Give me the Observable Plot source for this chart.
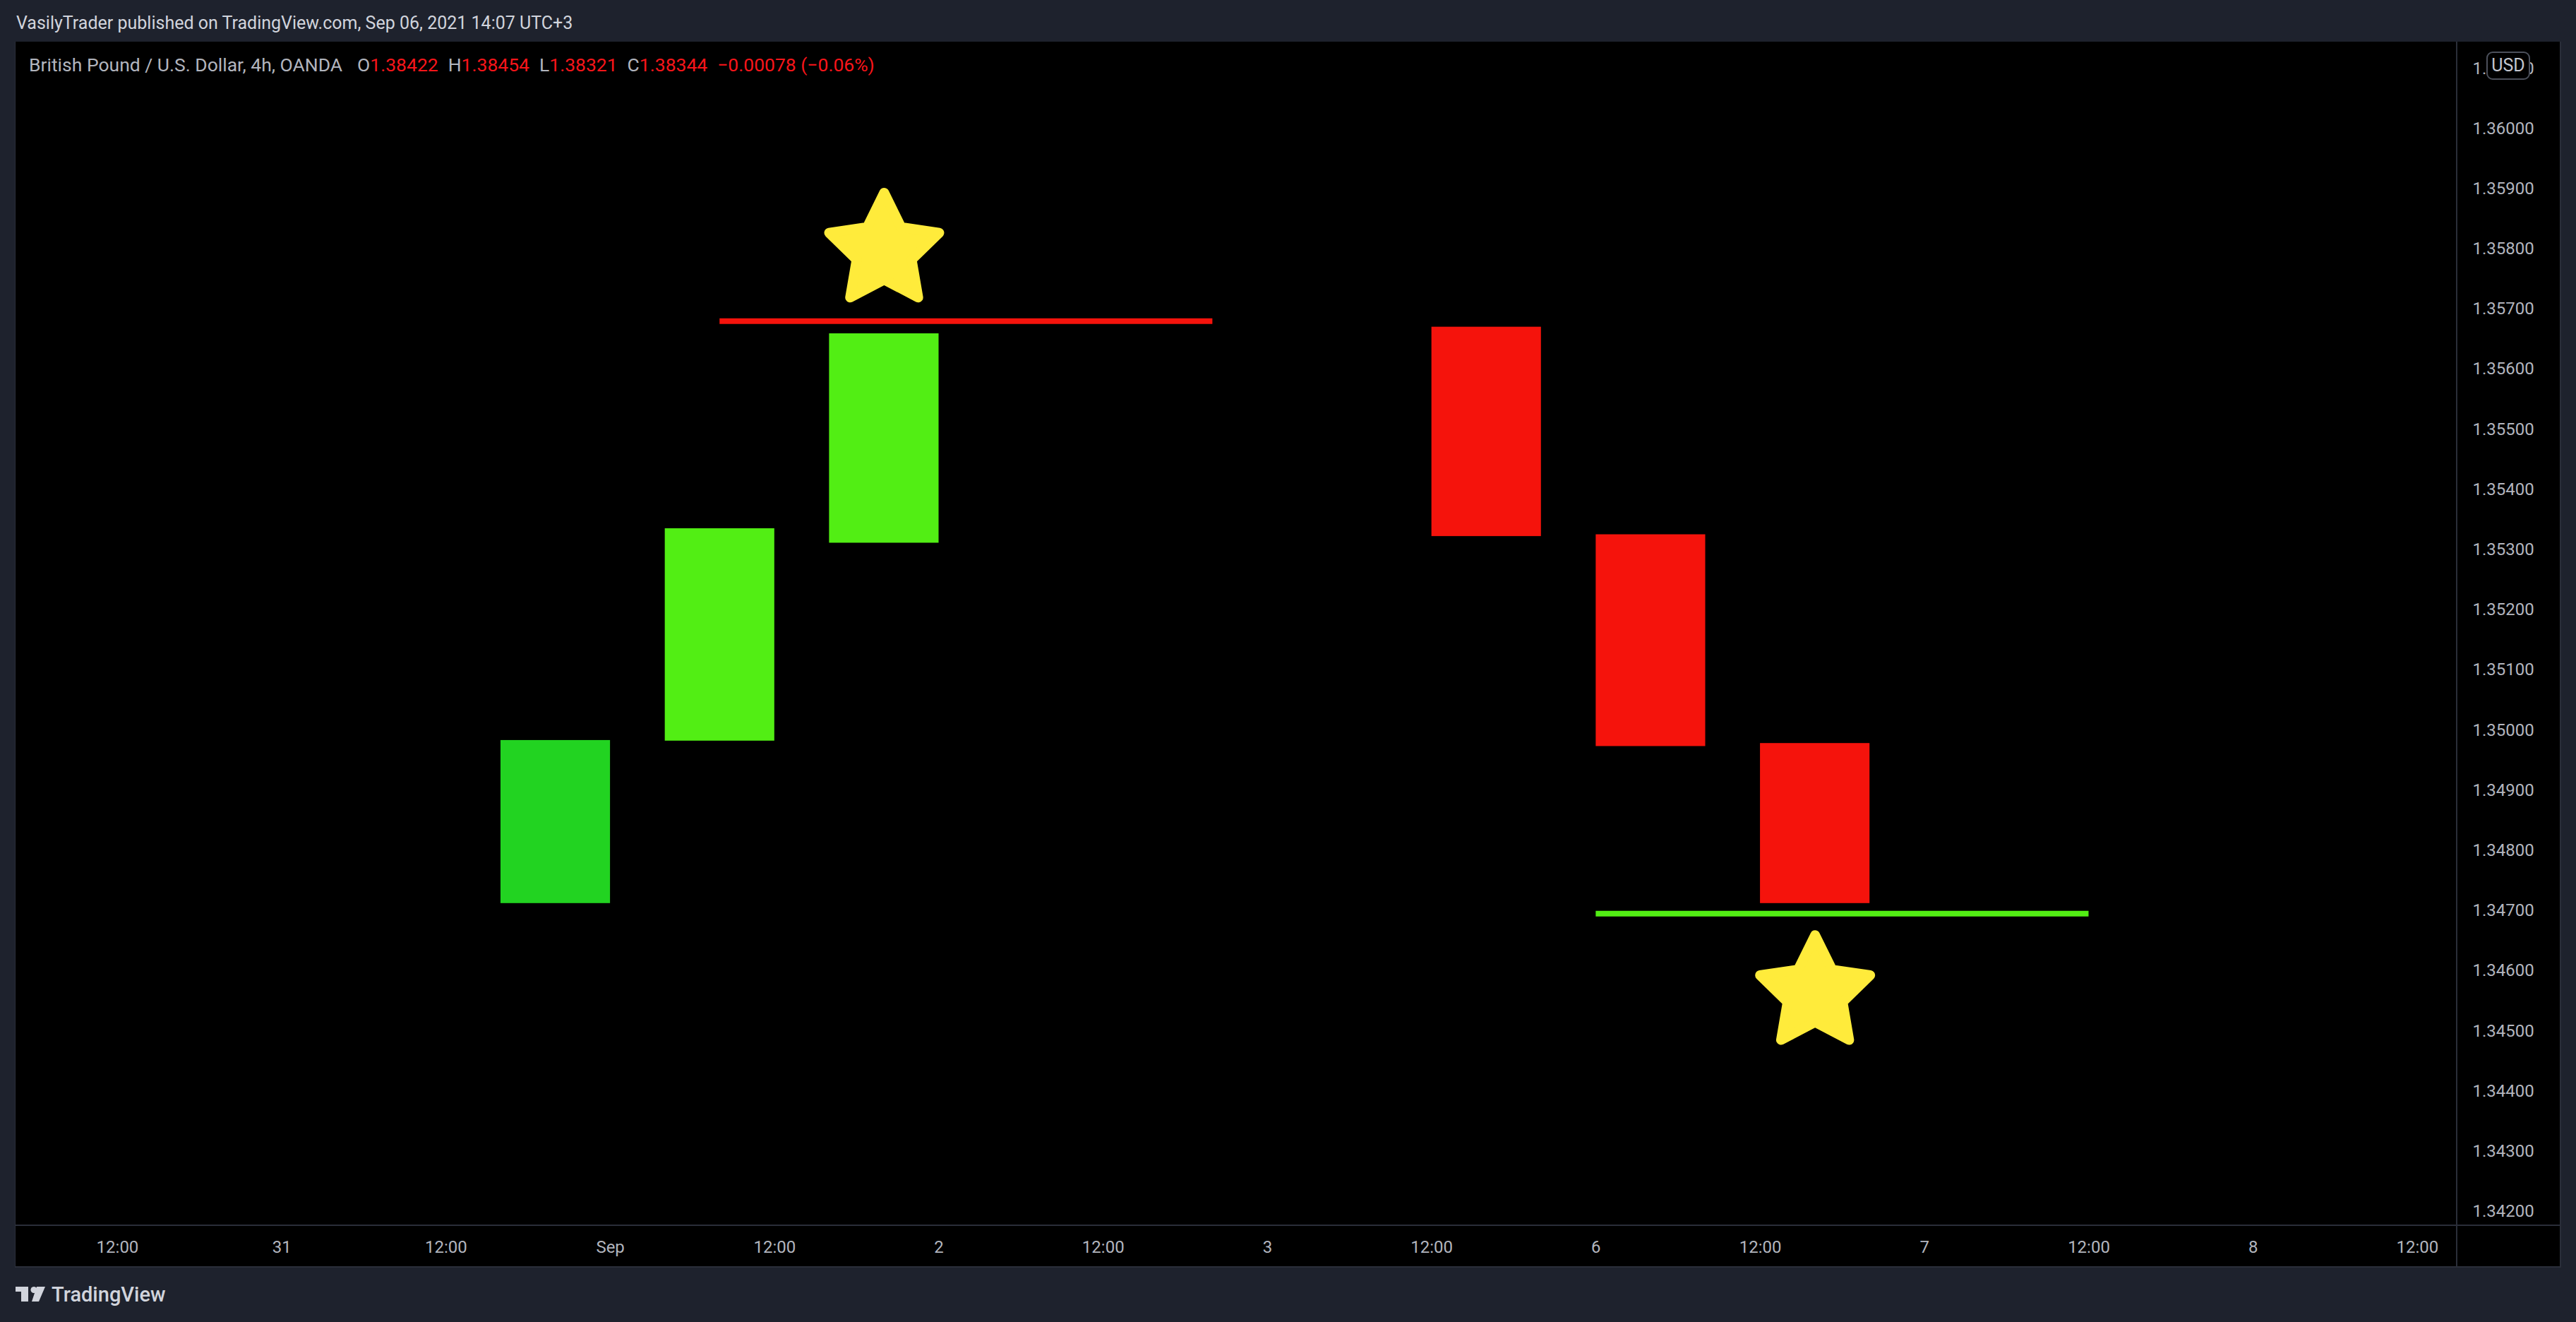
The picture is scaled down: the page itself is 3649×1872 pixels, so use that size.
<!DOCTYPE html>
<html>
<head>
<meta charset="utf-8">
<script src="https://cdn.jsdelivr.net/npm/d3@7"></script>
<script src="https://cdn.jsdelivr.net/npm/@observablehq/plot@0.6"></script>
<style>
  html, body { margin: 0; padding: 0; }
  body { width: 3649px; height: 1872px; background: #1e222d; position: relative; overflow: hidden; font-family: Roboto, "Open Sans", sans-serif; }
  .abs { position: absolute; white-space: nowrap; line-height: 1; }
  #header { left: 23px; top: 20px; font-size: 25px; color: #d1d4dc; }
  #panel { position: absolute; left: 22px; top: 59px; width: 3605px; height: 1735px; background: #000; }
  #legend { left: 41px; top: 79px; font-size: 26.5px; color: #b2b5be; }
  #legend .v { color: #f7151a; }
  #legend .g { margin-left: 14px; }
  #legend .g0 { margin-left: 21px; }
  .sep { position: absolute; background: #2a2e39; }
  #usd { left: 3522px; top: 73px; width: 58px; height: 36px; border: 2px solid #4c505b; border-radius: 9px; background: #000; color: #c3c6ce; font-size: 25px; text-align: center; line-height: 36px; position: absolute; }
  #footer { left: 73px; top: 1819px; font-size: 29px; font-weight: 500; color: #d1d4dc; }
</style>
</head>
<body>
<div id="header" class="abs">VasilyTrader published on TradingView.com, Sep 06, 2021 14:07 UTC+3</div>
<div id="panel"></div>
<div id="legend" class="abs">British Pound / U.S. Dollar, 4h, OANDA<span class="g0">O</span><span class="v">1.38422</span><span class="g">H</span><span class="v">1.38454</span><span class="g">L</span><span class="v">1.38321</span><span class="g">C</span><span class="v">1.38344</span><span class="g v">−0.00078 (−0.06%)</span></div>
<div class="sep" style="left:3479px; top:59px; width:2px; height:1735px;"></div>
<div class="sep" style="left:22px; top:1734px; width:3605px; height:2px;"></div>
<div class="sep" style="left:22px; top:1793px; width:3605px; height:2px;"></div>
<div class="sep" style="left:3626px; top:59px; width:2px; height:1736px;"></div>
<div class="sep" style="left:21px; top:59px; width:1px; height:1736px;"></div>
<div id="usd">USD</div>
<svg class="abs" style="left:22px; top:1822px;" width="44" height="22" viewBox="0 0 44 22">
  <path d="M0 0 H18 V21 H8 V7 H0 Z" fill="#d1d4dc"/>
  <circle cx="26" cy="4.5" r="4.5" fill="#d1d4dc"/>
  <path d="M30 0 H42 L33 21 H23 Z" fill="#d1d4dc"/>
</svg>
<div id="footer" class="abs">TradingView</div>
<script>
// ---- data (bar index on a 4h bar axis, prices in USD) ----
const xTickLabels = ["12:00","31","12:00","Sep","12:00","2","12:00","3","12:00","6","12:00","7","12:00","8","12:00"];
const xTickBars   = [0, 3, 6, 9, 12, 15, 18, 21, 24, 27, 30, 33, 36, 39, 42];

const candleStart = [7, 10, 13, 24, 27, 30];
const candleEnd   = [9, 12, 15, 26, 29, 32];
const candleOpen  = [1.34712, 1.34982, 1.35311, 1.35670, 1.35325, 1.34978];
const candleClose = [1.34983, 1.35335, 1.35659, 1.35322, 1.34973, 1.34712];
const candleKind  = ["up1", "up", "up", "down", "down", "down"];

const levelStart = [11, 27];
const levelEnd   = [20, 36];
const levelValue = [1.35680, 1.34695];
const levelKind  = ["down", "up"];

const starBar   = [14, 31];
const starValue = [1.35797, 1.34563];

const yTickValues = [1.342,1.343,1.344,1.345,1.346,1.347,1.348,1.349,1.350,1.351,1.352,1.353,1.354,1.355,1.356,1.357,1.358,1.359,1.360,1.361];

// ---- tables built from the arrays ----
const candles = candleStart.map((s, i) => ({start: s, end: candleEnd[i], open: candleOpen[i], close: candleClose[i], kind: candleKind[i]}));
const levels = levelStart.map((s, i) => ({start: s, end: levelEnd[i], value: levelValue[i], kind: levelKind[i]}));
const stars = starBar.map((b, i) => ({bar: b, value: starValue[i]}));
const labelByBar = new Map(xTickBars.map((b, i) => [b, xTickLabels[i]]));

// rounded five-point star symbol
const starSymbol = {
  draw(context, size) {
    const R = Math.sqrt(size / Math.PI);
    const r = R * 0.5;
    for (let k = 0; k < 10; k++) {
      const a = -Math.PI / 2 + k * Math.PI / 5;
      const rad = k % 2 ? r : R;
      const px = rad * Math.cos(a), py = rad * Math.sin(a);
      if (k === 0) context.moveTo(px, py); else context.lineTo(px, py);
    }
    context.closePath();
  }
};

const chart = Plot.plot({
  width: 3605,
  height: 1735,
  marginLeft: 0,
  marginTop: 0,
  marginRight: 148,
  marginBottom: 60,
  style: {background: "transparent", color: "#b2b5be", fontFamily: "Roboto, 'Open Sans', sans-serif", fontSize: "24px", overflow: "visible"},
  x: {domain: [-1.856, 42.71]},
  y: {domain: [1.341777, 1.361438]},
  color: {type: "ordinal", domain: ["up1", "up", "down"], range: ["#22d321", "#52ee14", "#f5130c"]},
  marks: [
    Plot.rect(candles, {x1: "start", x2: "end", y1: "open", y2: "close", fill: "kind"}),
    Plot.ruleY(levels, {y: "value", x1: "start", x2: "end", stroke: "kind", strokeWidth: 8}),
    Plot.dot(stars, {x: "bar", y: "value", r: 82, symbol: starSymbol, fill: "#ffeb3b", stroke: "#ffeb3b", strokeWidth: 14, strokeLinejoin: "round"}),
    Plot.axisY({anchor: "right", ticks: yTickValues, tickFormat: d3.format(".5f"), tickSize: 0, tickPadding: 23, textAnchor: "start", label: null}),
    Plot.axisX({ticks: xTickBars, tickFormat: d => labelByBar.get(d), tickSize: 0, tickPadding: 22, label: null,
      fontWeight: d => labelByBar.get(d) === "Sep" ? 600 : 400})
  ]
});
chart.style.position = "absolute";
chart.style.left = "22px";
chart.style.top = "59px";
document.body.insertBefore(chart, document.getElementById("legend"));
</script>
</body>
</html>
